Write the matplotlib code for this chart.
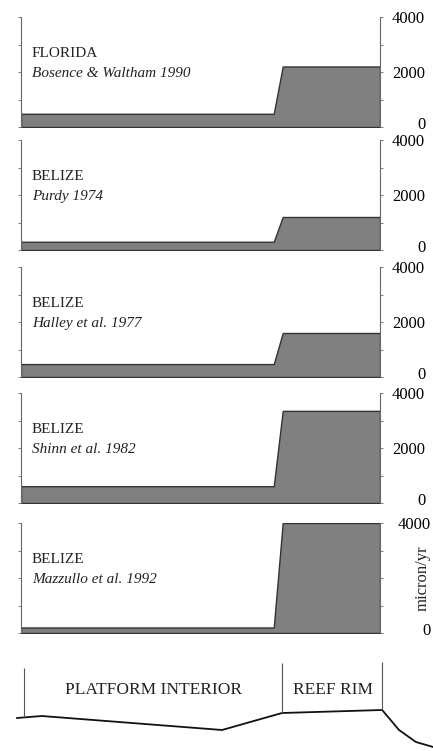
import matplotlib.pyplot as plt
import matplotlib.transforms as mtransforms

plt.rcParams['font.family'] = ['Liberation Serif', 'DejaVu Serif']

# position across the transect (% of panel width)
x_pos = [0, 70.4, 72.9, 100]

regions = ['FLORIDA', 'BELIZE', 'BELIZE', 'BELIZE', 'BELIZE']
sources = ['Bosence & Waltham 1990', 'Purdy 1974', 'Halley et al. 1977',
           'Shinn et al. 1982', 'Mazzullo et al. 1992']
interior_rate = [480, 300, 470, 610, 200]
rim_rate = [2200, 1200, 1600, 3350, 4000]

yticks = [0, 2000, 4000]
ytick_labels = ['0', '2000', '4000']
last_yticks = [0, 4000]
last_ytick_labels = ['0', '4000']

# cross-section profile (arbitrary relative height)
prof_x = [-1.1, 5.8, 56.0, 72.7, 100.6, 105.3, 110.0, 114.8]
prof_y = [-8, -6, -20, -3, 0, -20, -32, -37]
zone_x = [0.8, 72.7, 100.6]
zone_top = [42, 47, 48]
zone_bot = [-7, -3, 0]
zone_names = ['PLATFORM INTERIOR', 'REEF RIM']
zone_mid = [36.8, 86.9]

W, H = 433, 751
fig = plt.figure(figsize=(W / 100, H / 100), dpi=100)

panel_tops = [17, 140, 267, 393, 523]
panel_h = 110
left_px, right_px = 21, 380

for i in range(5):
    ax = fig.add_axes([left_px / W, 1 - (panel_tops[i] + panel_h) / H,
                       (right_px - left_px) / W, panel_h / H])
    vals = [interior_rate[i], interior_rate[i], rim_rate[i], rim_rate[i]]
    ax.fill_between(x_pos, 0, vals, color='#808080', edgecolor='#333333', lw=1)
    ax.set_xlim(0, 100)
    ax.set_ylim(0, 4000)
    for s in ['top', 'bottom']:
        ax.spines[s].set_visible(False)
    for s in ['left', 'right']:
        ax.spines[s].set_color('#666666')
        ax.spines[s].set_linewidth(0.8)
    ax.set_xticks([])
    ax.yaxis.tick_right()
    if i < 4:
        ax.set_yticks(yticks)
        ax.set_yticklabels(ytick_labels)
        ax.set_yticks([1000, 3000], minor=True)
        pad = 30
    else:
        ax.set_yticks(last_yticks)
        ax.set_yticklabels(last_ytick_labels)
        ax.set_yticks([1000, 2000, 3000], minor=True)
        pad = 34
    ax.tick_params(axis='y', which='both', left=True, right=True, direction='out',
                   length=2.5, width=0.6, color='#666666', labelsize=12,
                   labelleft=False, labelright=True, pad=pad)
    # nudge the zero label up a little so it clears the panel below
    shift = mtransforms.ScaledTranslation(0, 4 / 100, fig.dpi_scale_trans)
    for lab in ax.get_yticklabels():
        lab.set_horizontalalignment('right')
        if lab.get_text() == '0':
            lab.set_transform(lab.get_transform() + shift)
    ax.text(0.03, 0.67, regions[i], transform=ax.transAxes, fontsize=11,
            va='center', ha='left', color='#222222')
    ax.text(0.03, 0.49, sources[i], transform=ax.transAxes, fontsize=11,
            va='center', ha='left', style='italic', color='#222222')
    if i == 4:
        ax.text(1.12, 0.5, 'micron/yr', transform=ax.transAxes, rotation=90,
                fontsize=12, va='center', ha='center', color='#222222')

# cross section
axb = fig.add_axes([left_px / W, 0, (right_px - left_px) / W, 96 / H])
axb.set_xlim(0, 100)
axb.set_ylim(-41, 55)
axb.axis('off')
axb.plot(prof_x, prof_y, color='#111111', lw=1.3, clip_on=False)
axb.vlines(zone_x, zone_bot, zone_top, color='#555555', lw=0.8, clip_on=False)
for name, xm in zip(zone_names, zone_mid):
    axb.text(xm, 20, name, fontsize=12.5, ha='center', va='center', color='#222222')

fig.savefig('out.png', dpi=100)
